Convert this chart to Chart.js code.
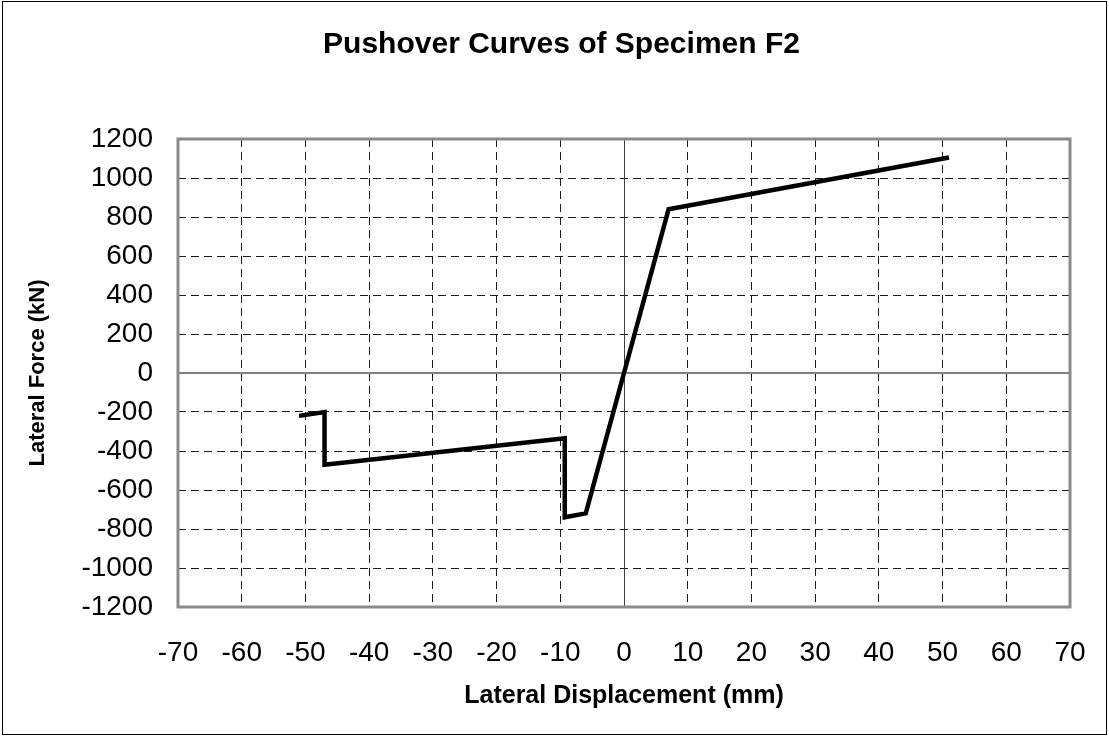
<!DOCTYPE html>
<html>
<head>
<meta charset="utf-8">
<title>Pushover Curves of Specimen F2</title>
<script src="https://cdn.jsdelivr.net/npm/chart.js@4.4.1/dist/chart.umd.min.js"></script>
<style>
  body { margin: 0; background: #fff; }
  #wrap { width: 1109px; height: 736px; }
</style>
</head>
<body>
<div id="wrap"><canvas id="grafik" width="1109" height="736"></canvas></div>
<script>
// pomeranje (mm) i sila (kN) uzorka F2
const pomeranje = [-51, -47, -47, -9.3, -9.3, -6, 0, 7, 51];
const sila = [-220, -200, -470, -335, -740, -720, 0, 840, 1105];

const xOd = -70, xDo = 70, xKorak = 10;
const yOd = -1200, yDo = 1200, yKorak = 200;

const font = "'Liberation Sans', Arial, sans-serif";

// nulte ose, okvir plota i okvir cele slike
const okviri = {
  id: "okviri",
  beforeDatasetsDraw(chart) {
    const c = chart.ctx, a = chart.chartArea;
    const x0 = chart.scales.x.getPixelForValue(0);
    const y0 = chart.scales.y.getPixelForValue(0);
    c.save();
    c.strokeStyle = "#808080";
    c.lineWidth = 2;
    c.beginPath();
    c.moveTo(a.left, y0);
    c.lineTo(a.right, y0);
    c.stroke();
    c.strokeStyle = "#404040";
    c.lineWidth = 1;
    c.beginPath();
    c.moveTo(Math.round(x0) + 0.5, a.top);
    c.lineTo(Math.round(x0) + 0.5, a.bottom);
    c.stroke();
    c.restore();
  },
  afterDraw(chart) {
    const c = chart.ctx, a = chart.chartArea;
    c.save();
    c.strokeStyle = "#8a8a8a";
    c.lineWidth = 3;
    c.strokeRect(a.left, a.top, a.right - a.left, a.bottom - a.top);
    c.strokeStyle = "#000";
    c.lineWidth = 1;
    c.strokeRect(2.5, 1.5, chart.width - 5, chart.height - 3);
    c.restore();
  }
};

const mreza = {
  color: (ctx) => (ctx.tick && ctx.tick.value === 0 ? "rgba(0,0,0,0)" : "#1a1a1a"),
  lineWidth: 1,
  drawTicks: false
};

new Chart(document.getElementById("grafik"), {
  type: "line",
  data: {
    labels: pomeranje,
    datasets: [{
      data: pomeranje.map((x, i) => ({ x: x, y: sila[i] })),
      borderColor: "#000",
      borderWidth: 4.5,
      pointRadius: 0,
      tension: 0,
      fill: false
    }]
  },
  options: {
    responsive: false,
    animation: false,
    devicePixelRatio: 1,
    layout: { padding: { left: 14, right: 0, top: 0, bottom: 0 } },
    plugins: {
      legend: { display: false },
      tooltip: { enabled: false },
      title: {
        display: true,
        text: "Pushover Curves of Specimen F2",
        color: "#000",
        font: { family: font, size: 30, weight: "bold" },
        padding: { top: 27, bottom: 76 }
      }
    },
    scales: {
      x: {
        type: "linear",
        min: xOd, max: xDo,
        grid: mreza,
        border: { display: false, dash: [8, 5] },
        ticks: {
          stepSize: xKorak,
          padding: 29,
          color: "#000",
          font: { family: font, size: 28 },
          callback: (v) => String(v)
        },
        title: {
          display: true,
          text: "Lateral Displacement (mm)",
          color: "#000",
          font: { family: font, size: 25, weight: "bold" },
          padding: { top: 0, bottom: 25 }
        },
        afterFit: (s) => {
          s.height = 129;
          s.paddingLeft = 0;
          s.paddingRight = 39;
        }
      },
      y: {
        type: "linear",
        min: yOd, max: yDo,
        grid: mreza,
        border: { display: false, dash: [8, 5] },
        ticks: {
          stepSize: yKorak,
          padding: 25,
          color: "#000",
          font: { family: font, size: 28 },
          callback: (v) => String(v)
        },
        title: {
          display: true,
          text: "Lateral Force (kN)",
          color: "#000",
          font: { family: font, size: 22, weight: "bold" },
          padding: { top: 11, bottom: 0 }
        },
        afterFit: (s) => { s.width = 164; }
      }
    }
  },
  plugins: [okviri]
});
</script>
</body>
</html>
